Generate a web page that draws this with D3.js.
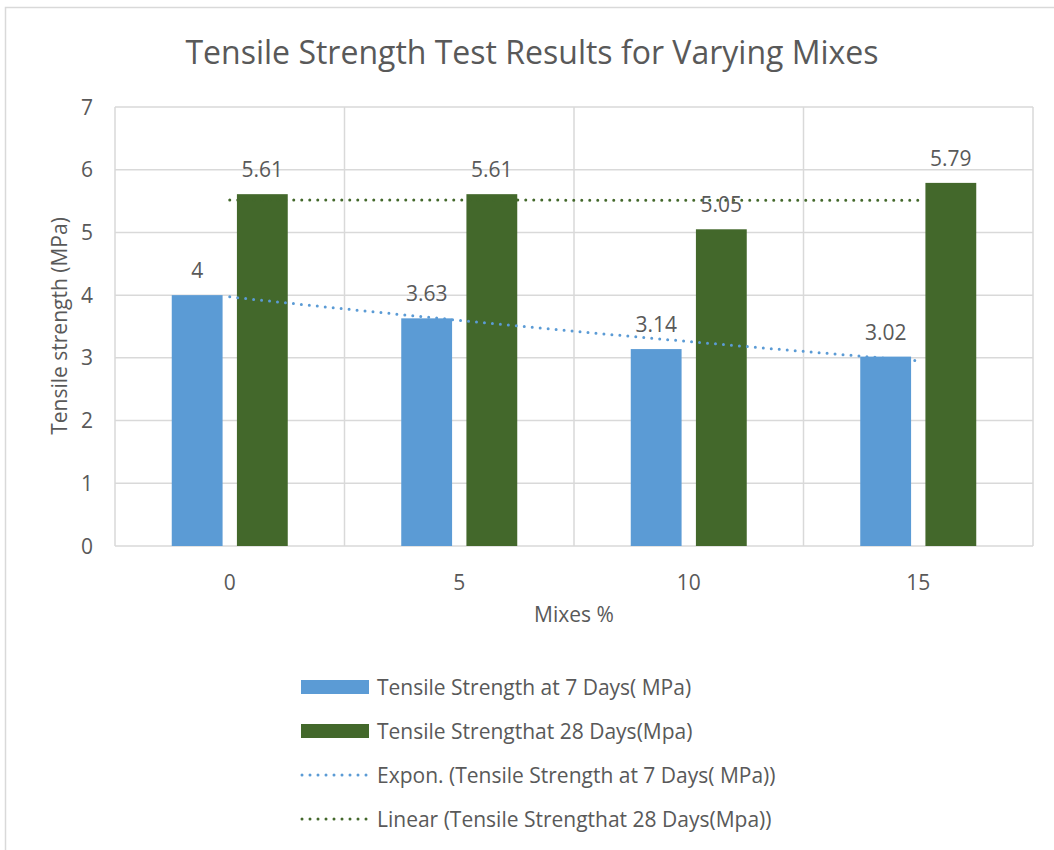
<!DOCTYPE html>
<html>
<head>
<meta charset="utf-8">
<script src="https://cdn.jsdelivr.net/npm/d3@7"></script>
<style>
  body { margin: 0; background: #fff; }
  text { font-family: "Open Sans", sans-serif; fill: #595959; }
</style>
</head>
<body>
<svg id="chart" width="1054" height="850"></svg>
<script>
// chart data
const mixes = ['0', '5', '10', '15']
const series = ['Tensile Strength at 7 Days( MPa)', 'Tensile Strengthat 28 Days(Mpa)']
const strength7 = [4, 3.63, 3.14, 3.02]
const strength28 = [5.61, 5.61, 5.05, 5.79]
const yTicks = [0, 1, 2, 3, 4, 5, 6, 7]
const trendNames = ['Expon. (Tensile Strength at 7 Days( MPa))', 'Linear (Tensile Strengthat 28 Days(Mpa))']

const colors = ['#5b9bd5', '#43682b']
const values = [strength7, strength28]
const fontSize = 21

const svg = d3.select('#chart')

// outer chart border
svg.append('rect')
  .attr('x', 5.5).attr('y', 7.5)
  .attr('width', 1100).attr('height', 900)
  .attr('fill', 'none').attr('stroke', '#d9d9d9').attr('stroke-width', 1.5)

// plot area
const plotLeft = 115
const plotRight = 1033
const plotTop = 107
const plotBottom = 546

const x0 = d3.scaleBand().domain(mixes).range([plotLeft, plotRight])
const x1 = d3.scaleBand().domain(series).range([-58, 58]).paddingInner(0.22)
const y = d3.scaleLinear().domain([0, 7]).range([plotBottom, plotTop])

// grid
const grid = svg.append('g')
grid.selectAll('line.h').data(yTicks)
  .enter().append('line')
    .attr('x1', plotLeft).attr('x2', plotRight)
    .attr('y1', d => y(d)).attr('y2', d => y(d))
    .attr('stroke', '#d9d9d9').attr('stroke-width', 1.5)
grid.selectAll('line.v').data(mixes.concat(['end']))
  .enter().append('line')
    .attr('x1', (d, i) => plotLeft + i * x0.step())
    .attr('x2', (d, i) => plotLeft + i * x0.step())
    .attr('y1', plotTop).attr('y2', plotBottom)
    .attr('stroke', '#d9d9d9').attr('stroke-width', 1.5)

// y tick labels
svg.append('g').selectAll('text').data(yTicks)
  .enter().append('text')
    .attr('x', 93)
    .attr('y', d => y(d) + 7.5)
    .attr('text-anchor', 'end')
    .attr('font-size', fontSize)
    .text(d => d)

// x tick labels
svg.append('g').selectAll('text').data(mixes)
  .enter().append('text')
    .attr('x', d => x0(d) + x0.bandwidth() / 2)
    .attr('y', 590)
    .attr('text-anchor', 'middle')
    .attr('font-size', fontSize)
    .text(d => d)

// bars
series.forEach((s, si) => {
  const g = svg.append('g')
  g.selectAll('rect').data(values[si])
    .enter().append('rect')
      .attr('x', (d, i) => x0(mixes[i]) + x0.bandwidth() / 2 + x1(s))
      .attr('y', d => y(d))
      .attr('width', x1.bandwidth())
      .attr('height', d => plotBottom - y(d))
      .attr('fill', colors[si])
})

// trendlines, fitted from the bar values like the spreadsheet does
const xs = values[0].map((d, i) => i + 1)
const fit = function (ys) {
  const mx = d3.mean(xs)
  const my = d3.mean(ys)
  const b = d3.sum(xs, (x, i) => (x - mx) * (ys[i] - my)) / d3.sum(xs, x => (x - mx) * (x - mx))
  return { a: my - b * mx, b: b }
}
const expFit = fit(strength7.map(Math.log))
const linFit = fit(strength28)
const xPos = d3.scaleLinear().domain([1, 4])
  .range([x0(mixes[0]) + x0.bandwidth() / 2, x0(mixes[3]) + x0.bandwidth() / 2])
const steps = d3.range(1, 4.001, 0.05)
const line = d3.line().x(d => xPos(d[0])).y(d => y(d[1]))

svg.append('path')
  .attr('d', line(steps.map(t => [t, Math.exp(expFit.a + expFit.b * t)])))
  .attr('fill', 'none').attr('stroke', colors[0])
  .attr('stroke-width', 3).attr('stroke-linecap', 'round')
  .attr('stroke-dasharray', '0 8')
svg.append('path')
  .attr('d', line(steps.map(t => [t, linFit.a + linFit.b * t])))
  .attr('fill', 'none').attr('stroke', colors[1])
  .attr('stroke-width', 3).attr('stroke-linecap', 'round')
  .attr('stroke-dasharray', '0 8')

// data labels
series.forEach((s, si) => {
  svg.append('g').selectAll('text').data(values[si])
    .enter().append('text')
      .attr('x', (d, i) => x0(mixes[i]) + x0.bandwidth() / 2 + x1(s) + x1.bandwidth() / 2)
      .attr('y', d => y(d) - 17)
      .attr('text-anchor', 'middle')
      .attr('font-size', fontSize)
      .text(d => d)
})

// title and axis titles
svg.append('text')
  .attr('x', 532).attr('y', 64)
  .attr('text-anchor', 'middle')
  .attr('font-size', 32)
  .text('Tensile Strength Test Results for Varying Mixes')

svg.append('text')
  .attr('transform', 'translate(67, 326) rotate(-90)')
  .attr('text-anchor', 'middle')
  .attr('font-size', fontSize)
  .text('Tensile strength (MPa)')

svg.append('text')
  .attr('x', 574).attr('y', 622)
  .attr('text-anchor', 'middle')
  .attr('font-size', fontSize)
  .text('Mixes %')

// legend
const legend = svg.append('g')
const rowY = [687, 731, 775, 819]
series.forEach((s, i) => {
  legend.append('rect')
    .attr('x', 301).attr('y', rowY[i] - 7)
    .attr('width', 68).attr('height', 14)
    .attr('fill', colors[i])
  legend.append('text')
    .attr('x', 377).attr('y', rowY[i] + 7.5)
    .attr('font-size', fontSize)
    .text(s)
})
trendNames.forEach((s, i) => {
  legend.append('line')
    .attr('x1', 302).attr('x2', 368)
    .attr('y1', rowY[i + 2]).attr('y2', rowY[i + 2])
    .attr('stroke', colors[i]).attr('stroke-width', 3)
    .attr('stroke-linecap', 'round').attr('stroke-dasharray', '0 8')
  legend.append('text')
    .attr('x', 377).attr('y', rowY[i + 2] + 7.5)
    .attr('font-size', fontSize)
    .text(s)
})
</script>
</body>
</html>
